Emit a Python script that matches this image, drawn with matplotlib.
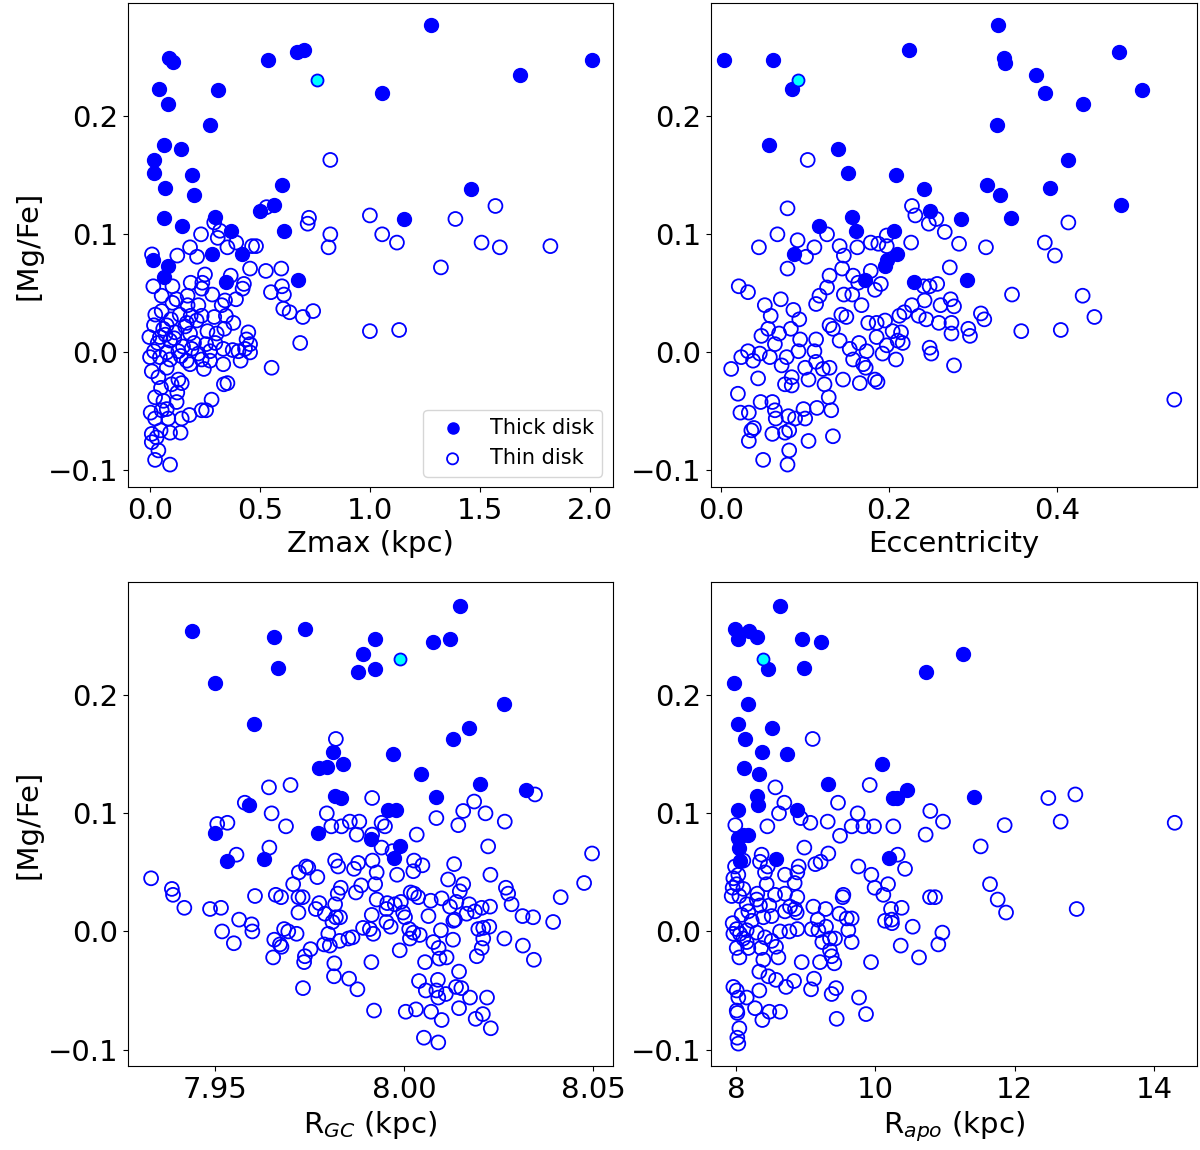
import matplotlib
matplotlib.use('Agg')
import matplotlib.pyplot as plt

# ---- Zmax panel ----
zmax_thick = [1.277, 2.009, 1.685, 0.086, 0.106, 0.535, 0.667, 0.702, 1.056, 0.042, 0.308, 0.083, 0.274,
              0.064, 0.141, 0.018, 0.018, 0.189, 0.068, 0.200, 0.600, 1.461, 0.564, 0.500, 0.064, 0.297,
              0.145, 1.155, 0.609, 0.368, 0.282, 0.418, 0.012, 0.083, 0.065, 0.345, 0.671]
mgfe_zmax_thick = [0.277, 0.248, 0.235, 0.249, 0.246, 0.248, 0.254, 0.256, 0.220, 0.223, 0.222, 0.210, 0.193,
                   0.176, 0.172, 0.163, 0.152, 0.150, 0.139, 0.133, 0.142, 0.138, 0.125, 0.120, 0.114, 0.115,
                   0.107, 0.113, 0.103, 0.103, 0.083, 0.083, 0.078, 0.073, 0.064, 0.060, 0.061]
zmax_thin = [0.820, 1.571, 1.000, 1.389, 0.530, 0.723, 0.717, 0.820, 1.056, 0.812, 1.123, 1.508, 1.591, 1.821,
             1.323, 1.000, 1.133, 0.683, 0.553, 0.742, 0.695, 0.635, 0.606, 0.550, 0.609, 0.600, 0.597, 0.527,
             0.455, 0.464, 0.482, 0.392, 0.352, 0.318, 0.292, 0.308, 0.232, 0.182, 0.124, 0.009, 0.214, 0.250,
             0.185, 0.238, 0.367, 0.427, 0.421, 0.283, 0.235, 0.171, 0.391, 0.341, 0.326, 0.015, 0.102, 0.053,
             0.102, 0.053, 0.024, 0.171, 0.220, 0.135, 0.185, 0.235, 0.292, 0.345, 0.379, 0.018, 0.076, 0.114,
             0.167, 0.212, 0.261, 0.303, 0.338, -0.003, 0.045, 0.091, 0.182, 0.200, 0.255, 0.297, 0.447, 0.439,
             0.455, 0.432, 0.455, 0.402, 0.376, 0.333, 0.273, 0.220, 0.189, 0.129, 0.076, 0.018, 0.000, 0.045,
             0.091, 0.167, 0.235, 0.273, 0.412, 0.008, 0.038, 0.076, 0.098, 0.129, 0.182, 0.245, 0.333, 0.144,
             0.336, 0.352, 0.023, 0.061, 0.124, 0.121, 0.280, 0.255, 0.235, 0.179, 0.144, 0.003, 0.023, 0.053,
             0.076, 0.083, 0.008, 0.030, 0.008, 0.048, 0.091, 0.139, 0.038, 0.023, 0.091,
             0.060, 0.110, 0.150, 0.035, 0.095, 0.140, 0.070, 0.120, 0.160, 0.050]
mgfe_zmax_thin = [0.163, 0.124, 0.116, 0.113, 0.123, 0.114, 0.109, 0.100, 0.100, 0.089, 0.093, 0.093, 0.089,
                  0.090, 0.072, 0.018, 0.019, 0.008, -0.013, 0.035, 0.030, 0.034, 0.037, 0.051, 0.049, 0.056,
                  0.071, 0.069, 0.071, 0.090, 0.090, 0.093, 0.089, 0.103, 0.110, 0.097, 0.100, 0.089, 0.082,
                  0.083, 0.081, 0.066, 0.059, 0.059, 0.065, 0.058, 0.054, 0.049, 0.054, 0.048, 0.045, 0.044,
                  0.040, 0.056, 0.056, 0.048, 0.042, 0.035, 0.032, 0.040, 0.040, 0.032, 0.031, 0.031, 0.030,
                  0.031, 0.025, 0.023, 0.023, 0.017, 0.025, 0.027, 0.018, 0.016, 0.020, 0.013, 0.013, 0.010,
                  0.016, 0.008, 0.007, 0.008, 0.017, 0.011, 0.007, 0.003, 0.000, 0.001, 0.002, 0.003, 0.001,
                  -0.001, 0.003, 0.001, 0.000, 0.001, -0.004, -0.004, -0.006, -0.007, -0.006, -0.007, -0.007,
                  -0.016, -0.021, -0.013, -0.027, -0.023, -0.010, -0.014, -0.010, -0.026, -0.027, -0.026,
                  -0.038, -0.041, -0.034, -0.042, -0.040, -0.049, -0.049, -0.053, -0.056, -0.051, -0.056,
                  -0.049, -0.048, -0.056, -0.069, -0.072, -0.076, -0.066, -0.068, -0.068, -0.083, -0.091, -0.095,
                  0.020, 0.012, 0.005, 0.008, 0.028, -0.003, 0.015, 0.045, 0.022, -0.030]

# ---- Eccentricity panel ----
ecc_thick = [0.003, 0.062, 0.084, 0.224, 0.329, 0.336, 0.338, 0.374, 0.385, 0.473, 0.500, 0.430, 0.328,
             0.057, 0.139, 0.412, 0.151, 0.208, 0.316, 0.241, 0.332, 0.391, 0.476, 0.249, 0.285, 0.345,
             0.156, 0.117, 0.160, 0.206, 0.087, 0.209, 0.197, 0.195, 0.171, 0.230, 0.293]
mgfe_ecc_thick = [0.248, 0.248, 0.223, 0.256, 0.277, 0.249, 0.245, 0.235, 0.220, 0.254, 0.222, 0.210, 0.193,
                  0.176, 0.172, 0.163, 0.152, 0.150, 0.142, 0.138, 0.133, 0.139, 0.125, 0.120, 0.113, 0.114,
                  0.115, 0.107, 0.103, 0.103, 0.083, 0.083, 0.078, 0.073, 0.061, 0.060, 0.061]
ecc_thin = [0.103, 0.079, 0.227, 0.231, 0.247, 0.256, 0.266, 0.413, 0.067, 0.091, 0.126, 0.045, 0.101, 0.111,
            0.141, 0.146, 0.162, 0.178, 0.187, 0.197, 0.197, 0.226, 0.283, 0.315, 0.385, 0.397, 0.079, 0.272,
            0.144, 0.129, 0.157, 0.163, 0.178, 0.190, 0.183, 0.126, 0.021, 0.032, 0.146, 0.156, 0.117, 0.113,
            0.071, 0.052, 0.167, 0.241, 0.248, 0.257, 0.242, 0.227, 0.261, 0.273, 0.277, 0.346, 0.430, 0.444,
            0.309, 0.313, 0.357, 0.404, 0.539, 0.086, 0.093, 0.059, 0.083, 0.056, 0.048, 0.069, 0.064, 0.094,
            0.113, 0.133, 0.129, 0.149, 0.143, 0.141, 0.153, 0.164, 0.175, 0.185, 0.195, 0.185, 0.197, 0.204,
            0.214, 0.212, 0.218, 0.210, 0.216, 0.235, 0.244, 0.259, 0.274, 0.274, 0.294, 0.296, 0.248, 0.250,
            0.277, 0.208, 0.192, 0.173, 0.157, 0.169, 0.172, 0.183, 0.186, 0.165, 0.145, 0.129, 0.121, 0.123,
            0.113, 0.100, 0.104, 0.111, 0.092, 0.078, 0.072, 0.084, 0.076, 0.084, 0.058, 0.046, 0.038, 0.032,
            0.024, 0.012, 0.044, 0.020, 0.023, 0.033, 0.047, 0.061, 0.064, 0.065, 0.080, 0.088, 0.098, 0.100,
            0.114, 0.128, 0.131, 0.036, 0.039, 0.033, 0.061, 0.076, 0.081, 0.104, 0.133, 0.081, 0.050, 0.079]
mgfe_ecc_thin = [0.163, 0.122, 0.124, 0.116, 0.109, 0.113, 0.102, 0.110, 0.100, 0.095, 0.100, 0.089, 0.081,
                 0.089, 0.090, 0.082, 0.089, 0.093, 0.092, 0.090, 0.099, 0.093, 0.092, 0.089, 0.093, 0.082,
                 0.071, 0.072, 0.071, 0.065, 0.065, 0.059, 0.069, 0.058, 0.053, 0.055, 0.056, 0.051, 0.049,
                 0.049, 0.048, 0.041, 0.045, 0.040, 0.040, 0.056, 0.056, 0.058, 0.044, 0.040, 0.040, 0.045,
                 0.039, 0.049, 0.048, 0.030, 0.033, 0.028, 0.018, 0.019, -0.040, 0.036, 0.028, 0.031, 0.020,
                 0.020, 0.014, 0.016, 0.007, 0.011, 0.011, 0.020, 0.023, 0.030, 0.032, 0.010, 0.003, 0.008,
                 0.025, 0.025, 0.027, 0.013, 0.006, 0.018, 0.017, 0.031, 0.034, 0.010, 0.008, 0.031, 0.028,
                 0.025, 0.025, 0.016, 0.020, 0.014, 0.004, -0.001, -0.011, -0.006, -0.001, 0.001, -0.006,
                 -0.010, -0.013, -0.023, -0.025, -0.026, -0.023, -0.013, -0.014, -0.027, -0.008, -0.013,
                 -0.023, 0.001, 0.001, -0.004, -0.011, -0.021, -0.027, -0.028, -0.004, -0.001, -0.007, 0.001,
                 -0.004, -0.014, -0.022, -0.035, -0.051, -0.051, -0.042, -0.042, -0.049, -0.056, -0.054,
                 -0.056, -0.048, -0.056, -0.047, -0.038, -0.049, -0.066, -0.064, -0.075, -0.069, -0.068,
                 -0.066, -0.075, -0.071, -0.083, -0.091, -0.095]

# ---- R_GC panel ----
rgc_thick = [7.9439, 7.9655, 7.9736, 7.9500, 7.9666, 7.9890, 7.9923, 7.9877, 7.9922, 8.0077, 8.0122, 8.0147,
             8.0265, 7.9603, 8.0172, 8.0130, 7.9812, 7.9839, 7.9775, 7.9796, 7.9969, 8.0044, 8.0200, 8.0322,
             7.9817, 7.9832, 8.0085, 7.9590, 7.9958, 7.9978, 7.9500, 7.9772, 7.9911, 7.9989, 7.9973, 7.9530,
             7.9630]
mgfe_rgc_thick = [0.254, 0.249, 0.256, 0.210, 0.223, 0.235, 0.248, 0.220, 0.222, 0.245, 0.248, 0.276, 0.193,
                  0.176, 0.172, 0.163, 0.152, 0.142, 0.138, 0.139, 0.150, 0.133, 0.125, 0.120, 0.115, 0.113,
                  0.114, 0.107, 0.103, 0.103, 0.083, 0.083, 0.078, 0.072, 0.062, 0.060, 0.061]
rgc_thin = [7.9819, 7.9642, 7.9699, 7.9578, 7.9649, 7.9687, 7.9505, 7.9532, 7.9795, 7.9807, 7.9834, 7.9856,
            7.9881, 7.9874, 7.9915, 7.9915, 7.9940, 7.9949, 7.9940, 8.0033, 8.0085, 8.0143, 8.0156, 8.0185,
            8.0215, 8.0266, 8.0346, 8.0222, 8.0497, 7.9643, 7.9556, 7.9969, 7.9330, 7.9385, 7.9388, 7.9418,
            7.9486, 7.9515, 7.9563, 7.9596, 7.9598, 7.9518, 7.9549, 7.9605, 7.9660, 7.9674, 7.9706, 7.9721,
            7.9740, 7.9746, 7.9770, 7.9720, 7.9731, 7.9720, 7.9682, 7.9693, 7.9715, 7.9656, 7.9671, 7.9675,
            7.9653, 7.9737, 7.9752, 7.9735, 7.9732, 7.9775, 7.9766, 7.9790, 7.9817, 7.9832, 7.9824, 7.9817,
            7.9825, 7.9867, 7.9878, 7.9886, 7.9872, 7.9916, 7.9927, 7.9923, 7.9927, 7.9914, 7.9918, 7.9891,
            7.9909, 7.9819, 7.9830, 7.9810, 7.9799, 7.9788, 7.9803, 7.9829, 7.9852, 7.9863, 7.9815, 7.9814,
            7.9854, 7.9876, 7.9913, 7.9920, 7.9953, 7.9964, 7.9955, 7.9975, 7.9991, 7.9953, 7.9997, 8.0002,
            7.9981, 7.9988, 8.0013, 8.0024, 8.0015, 8.0041, 8.0026, 8.0048, 8.0024, 8.0026, 8.0017, 8.0037,
            8.0070, 8.0064, 8.0099, 8.0116, 8.0132, 8.0156, 8.0147, 8.0138, 8.0121, 8.0097, 8.0130, 8.0134,
            8.0172, 8.0165, 8.0187, 8.0205, 8.0227, 8.0196, 8.0209, 8.0225, 8.0209, 8.0205, 8.0192, 8.0129,
            8.0077, 8.0091, 8.0093, 8.0112, 8.0055, 8.0228, 8.0269, 8.0275, 8.0284, 8.0313, 8.0341, 8.0394,
            8.0414, 8.0476, 8.0265, 8.0314, 8.0343, 8.0145, 8.0039, 8.0089, 8.0057, 8.0085, 8.0090, 8.0110,
            8.0137, 8.0151, 8.0174, 8.0219, 8.0145, 8.0208, 8.0189, 8.0229, 8.0004, 8.0031, 8.0071, 8.0099,
            8.0052, 8.0090]
mgfe_rgc_thin = [0.163, 0.122, 0.124, 0.109, 0.100, 0.089, 0.091, 0.092, 0.100, 0.089, 0.089, 0.093, 0.093,
                 0.082, 0.113, 0.082, 0.092, 0.089, 0.071, 0.082, 0.096, 0.090, 0.102, 0.110, 0.100, 0.093,
                 0.116, 0.072, 0.066, 0.071, 0.065, 0.068, 0.045, 0.036, 0.031, 0.020, 0.019, 0.020, 0.010,
                 0.006, 0.000, 0.000, -0.010, 0.030, 0.031, 0.029, 0.040, 0.050, 0.055, 0.054, 0.046, 0.029,
                 0.029, 0.016, 0.002, 0.000, -0.002, -0.007, -0.011, -0.013, -0.022, -0.021, -0.015, -0.026,
                 -0.048, 0.024, 0.019, 0.015, 0.023, 0.037, 0.032, 0.060, 0.055, 0.053, 0.058, 0.039, 0.033,
                 0.060, 0.050, 0.040, 0.027, 0.014, -0.002, 0.003, 0.002, 0.012, 0.012, 0.008, -0.002,
                 -0.011, -0.012, -0.008, -0.006, -0.005, -0.027, -0.038, -0.040, -0.049, -0.026, -0.067,
                 0.008, 0.004, 0.024, 0.023, 0.025, 0.019, 0.016, 0.012, 0.048, -0.016, 0.002, -0.001,
                 -0.006, -0.003, 0.060, 0.056, 0.051, 0.032, 0.033, 0.029, 0.026, 0.013, 0.028, 0.044,
                 0.057, 0.040, 0.034, 0.025, 0.021, 0.001, 0.009, 0.010, 0.023, 0.015, 0.017, 0.020, 0.021,
                 0.002, 0.003, 0.004, -0.006, -0.014, -0.021, -0.007, -0.009, -0.014, -0.023, -0.022,
                 -0.026, 0.048, 0.037, 0.032, 0.023, 0.013, 0.012, 0.008, 0.029, 0.041, -0.006, -0.012,
                 -0.024, -0.034, -0.042, -0.041, -0.050, -0.050, -0.056, -0.053, -0.047, -0.048, -0.056,
                 -0.056, -0.065, -0.070, -0.074, -0.082, -0.068, -0.066, -0.068, -0.075, -0.090, -0.094]

# ---- R_apo panel ----
rapo_thick = [8.632, 7.981, 8.033, 8.191, 8.297, 8.943, 9.220, 11.263, 8.455, 8.976, 10.722, 7.971, 8.172,
              8.033, 8.512, 8.124, 8.378, 8.737, 8.115, 8.325, 10.100, 9.325, 10.450, 10.249, 10.306, 11.421,
              8.306, 8.316, 8.033, 8.880, 8.096, 8.177, 8.033, 8.048, 8.057, 8.574, 10.201]
mgfe_rapo_thick = [0.276, 0.256, 0.248, 0.254, 0.249, 0.248, 0.245, 0.235, 0.222, 0.223, 0.220, 0.210, 0.193,
                   0.176, 0.172, 0.163, 0.152, 0.150, 0.138, 0.133, 0.142, 0.125, 0.120, 0.113, 0.113, 0.114,
                   0.115, 0.107, 0.103, 0.103, 0.082, 0.082, 0.079, 0.071, 0.060, 0.061, 0.062]
rapo_thin = [9.100, 8.565, 9.919, 8.694, 9.464, 8.617, 9.746, 10.789, 12.483, 12.871, 14.297, 12.660, 11.856,
             10.971, 10.722, 11.512, 10.258, 9.981, 9.828, 9.660, 9.493, 9.316, 9.067, 8.928, 8.450, 7.990,
             8.981, 9.325, 9.215, 9.139, 8.900, 8.880, 8.703, 8.842, 9.756, 9.943, 10.321, 10.426, 10.182,
             9.990, 10.115, 11.646, 11.756, 11.876, 12.890, 10.785, 10.856, 8.368, 8.344, 8.455, 8.416, 8.440,
             8.105, 7.986, 8.033, 7.962, 8.010, 7.952, 8.105, 7.938, 8.048, 8.153, 8.306, 8.297, 8.344, 8.560,
             8.703, 8.880, 9.541, 9.531, 9.110, 9.287, 9.483, 9.589, 9.660, 9.612, 9.660, 9.172, 9.292, 9.086,
             9.182, 8.880, 8.766, 8.703, 8.871, 8.847, 8.775, 8.478, 8.512, 8.392, 8.177, 8.081, 8.225, 7.952,
             8.010, 7.962, 8.057, 8.153, 8.105, 8.153, 8.010, 8.177, 8.048, 8.297, 8.416, 8.359, 8.512, 8.574,
             8.608, 8.392, 8.632, 8.943, 9.206, 9.239, 9.349, 9.421, 9.349, 9.373, 9.411, 9.938, 10.139, 10.234,
             10.239, 10.225, 10.378, 10.536, 10.962, 10.904, 10.364, 10.627, 8.335, 8.464, 8.574, 8.718, 8.833,
             9.120, 9.077, 9.373, 9.435, 9.766, 9.866, 9.445, 8.335, 7.962, 8.010, 8.033, 8.153, 8.273, 8.010,
             8.019, 8.478, 8.632, 8.378, 8.048, 8.019, 8.033]
mgfe_rapo_thin = [0.163, 0.122, 0.124, 0.109, 0.109, 0.100, 0.100, 0.102, 0.113, 0.116, 0.092, 0.093, 0.090,
                  0.093, 0.082, 0.072, 0.089, 0.089, 0.089, 0.089, 0.081, 0.093, 0.092, 0.096, 0.089, 0.090,
                  0.071, 0.066, 0.059, 0.057, 0.055, 0.050, 0.048, 0.041, 0.055, 0.048, 0.065, 0.053, 0.040,
                  0.037, 0.031, 0.040, 0.027, 0.016, 0.019, 0.029, 0.029, 0.065, 0.059, 0.055, 0.050, 0.040,
                  0.060, 0.055, 0.048, 0.045, 0.040, 0.037, 0.036, 0.030, 0.030, 0.023, 0.032, 0.027, 0.022,
                  0.031, 0.032, 0.029, 0.031, 0.029, 0.021, 0.019, 0.015, 0.011, 0.011, 0.001, -0.009, 0.010,
                  0.004, 0.002, 0.001, 0.002, 0.000, 0.017, 0.016, 0.019, 0.021, 0.022, 0.013, 0.012, 0.017,
                  0.014, 0.009, 0.007, 0.002, -0.002, -0.002, 0.001, -0.006, -0.009, -0.014, -0.014, -0.022,
                  -0.001, -0.005, -0.014, -0.008, -0.013, -0.022, -0.024, 0.000, -0.026, -0.026, -0.009,
                  -0.006, -0.006, -0.016, -0.021, -0.027, -0.026, 0.009, 0.010, 0.007, 0.019, 0.020, 0.004,
                  -0.001, -0.011, -0.012, -0.022, -0.034, -0.038, -0.041, -0.047, -0.042, -0.040, -0.049,
                  -0.053, -0.048, -0.056, -0.070, -0.074, -0.050, -0.047, -0.050, -0.056, -0.056, -0.065,
                  -0.067, -0.069, -0.068, -0.068, -0.075, -0.082, -0.090, -0.095]

# the one special star (cyan), same [Mg/Fe] in every panel
special_mgfe = 0.231
special_zmax = 0.761
special_ecc = 0.0915
special_rgc = 7.999
special_rapo = 8.392

# 创建画布 1200 x 1150 像素
fig = plt.figure(figsize=(12, 11.5), dpi=100)

panels = [
    ([0.1067, 0.5765, 0.404, 0.421], zmax_thick, mgfe_zmax_thick, zmax_thin, mgfe_zmax_thin, special_zmax,
     'Zmax (kpc)', (-0.1, 2.105), [0.0, 0.5, 1.0, 1.5, 2.0], ['0.0', '0.5', '1.0', '1.5', '2.0']),
    ([0.5925, 0.5765, 0.405, 0.421], ecc_thick, mgfe_ecc_thick, ecc_thin, mgfe_ecc_thin, special_ecc,
     'Eccentricity', (-0.012, 0.566), [0.0, 0.2, 0.4], ['0.0', '0.2', '0.4']),
    ([0.1067, 0.073, 0.404, 0.421], rgc_thick, mgfe_rgc_thick, rgc_thin, mgfe_rgc_thin, special_rgc,
     r'R$_{GC}$ (kpc)', (7.9269, 8.0552), [7.95, 8.00, 8.05], ['7.95', '8.00', '8.05']),
    ([0.5925, 0.073, 0.405, 0.421], rapo_thick, mgfe_rapo_thick, rapo_thin, mgfe_rapo_thin, special_rapo,
     r'R$_{apo}$ (kpc)', (7.641, 14.617), [8, 10, 12, 14], ['8', '10', '12', '14']),
]

for i, (pos, xt, yt, xn, yn, xs, xlabel, xlim, xticks, xticklabels) in enumerate(panels):
    ax = fig.add_axes(pos)
    ax.scatter(xt, yt, s=100, color='blue', label='Thick disk', zorder=2)
    ax.scatter(xn, yn, s=100, facecolors='none', edgecolors='blue', linewidths=1.3, label='Thin disk', zorder=2)
    ax.scatter([xs], [special_mgfe], s=75, facecolors='cyan', edgecolors='blue', linewidths=1.3, zorder=3)

    ax.set_xlim(*xlim)
    ax.set_ylim(-0.114, 0.296)
    ax.set_xticks(xticks)
    ax.set_xticklabels(xticklabels)
    ax.set_yticks([-0.1, 0.0, 0.1, 0.2])
    ax.set_yticklabels(['\u22120.1', '0.0', '0.1', '0.2'])
    ax.tick_params(labelsize=21)
    ax.set_xlabel(xlabel, fontsize=21)
    if i % 2 == 0:
        ax.set_ylabel('[Mg/Fe]', fontsize=21)
    if i == 0:
        ax.legend(loc='lower right', fontsize=15, markerscale=0.8)

fig.savefig('out.png', dpi=100)
